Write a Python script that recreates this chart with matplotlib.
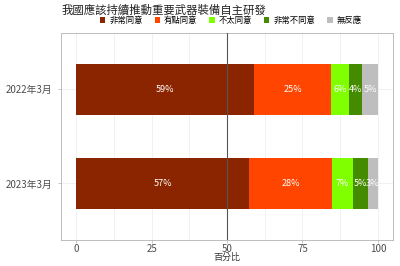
import matplotlib

matplotlib.use("Agg")

import matplotlib.pyplot as plt
from matplotlib.patches import Patch

plt.rcParams["font.family"] = ["Noto Sans CJK TC", "DejaVu Sans"]

# data
TITLE = "我國應該持續推動重要武器裝備自主研發"
periods = ["2023年3月", "2022年3月"]
responses = ["非常同意", "有點同意", "不太同意", "非常不同意", "無反應"]
colors = ["#8B2500", "#FF4500", "#7FFF00", "#458B00", "#BEBEBE"]

values_2023 = [57.3, 27.6, 6.8, 4.9, 3.4]
values_2022 = [59.1, 25.4, 6.0, 4.3, 5.2]
values = [values_2023, values_2022]

xticks = [0, 25, 50, 75, 100]

fig = plt.figure(figsize=(4.0, 2.66), dpi=100)
ax = fig.add_axes([0.1525, 0.098, 0.83, 0.778])

for i, row in enumerate(values):
    left = 0.0
    for v, c in zip(row, colors):
        ax.barh(i, v, left=left, height=0.55, color=c, linewidth=0, zorder=2)
        ax.text(left + v / 2, i, f"{round(v)}%", ha="center", va="center",
                color="white", fontsize=6.5, zorder=3)
        left += v

ax.axvline(50, color="#555555", linewidth=0.8, zorder=4)

ax.set_xlim(-5, 105)
ax.set_ylim(-0.6, 1.6)
ax.set_xticks(xticks)
ax.set_xticks([12.5, 37.5, 62.5, 87.5], minor=True)
ax.set_yticks(range(len(periods)))
ax.set_yticklabels(periods)
ax.grid(True, which="both", color="#EBEBEB", linewidth=0.5, zorder=0)
ax.tick_params(which="both", colors="#B3B3B3", length=2.5, width=0.5,
               labelcolor="#4D4D4D", labelsize=7)
ax.tick_params(axis="x", pad=0.5)
ax.tick_params(which="minor", length=0)
for s in ax.spines.values():
    s.set_color("#B3B3B3")
    s.set_linewidth(0.6)

ax.set_xlabel("百分比", fontsize=6.5, color="#333333", labelpad=-1)

fig.text(0.155, 0.962, TITLE, fontsize=8.2, color="#222222",
         ha="left", va="center")

handles = [Patch(facecolor=c, edgecolor="none") for c in colors]
fig.legend(handles, responses, loc="center", bbox_to_anchor=(0.577, 0.924),
           ncol=5, frameon=False, fontsize=6, handlelength=0.65,
           handleheight=0.65, handletextpad=0.5, columnspacing=1.4,
           borderaxespad=0, borderpad=0)

fig.savefig("out.png", dpi=100)
